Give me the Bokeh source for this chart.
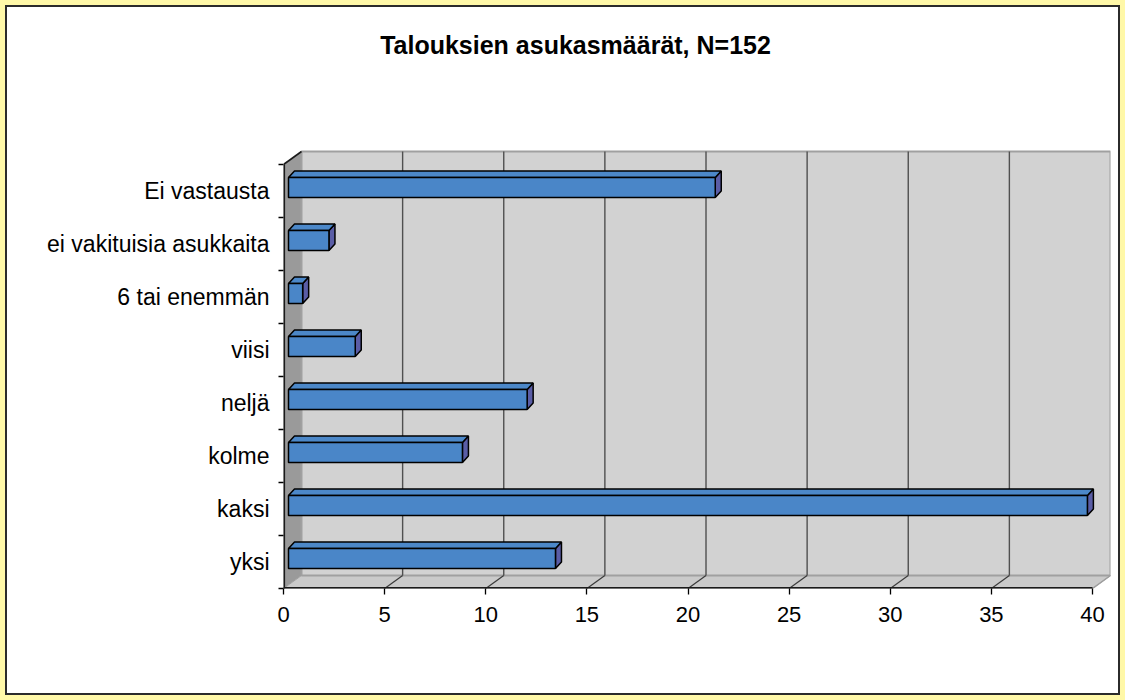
from bokeh.plotting import figure
from bokeh.models import Range1d, FixedTicker, LinearAxis, Label
from bokeh.embed import file_html
from bokeh.resources import INLINE

# ---------------- data ----------------
title_text = "Talouksien asukasmäärät, N=152"
categories = ["yksi", "kaksi", "kolme", "neljä", "viisi",
              "6 tai enemmän", "ei vakituisia asukkaita", "Ei vastausta"]
values = [13.2, 39.5, 8.6, 11.8, 3.3, 0.7, 2.0, 21.1]
x_ticks = [0, 5, 10, 15, 20, 25, 30, 35, 40]

# ---------------- layout (pixels) ----------------
W, H = 1125, 700
N = len(categories)
X_MAX = x_ticks[-1]
FRONT_W_PX = 809          # width of 0..X_MAX on the front plane
FRONT_H_PX = 424          # height of the category axis on the front plane
DEPTH_X_PX, DEPTH_Y_PX = 18, 13
FRONT_LEFT, FRONT_BOTTOM = 283, 588
SX = FRONT_W_PX / X_MAX
SY = FRONT_H_PX / N
dx = DEPTH_X_PX / SX
dy = DEPTH_Y_PX / SY

frame_w = FRONT_W_PX + DEPTH_X_PX
left_b = FRONT_LEFT
right_b = W - left_b - frame_w
top_b = 0
bottom_b = H - FRONT_BOTTOM

FONT = "Liberation Sans"

p = figure(width=W, height=H, output_backend="svg", toolbar_location=None,
           x_range=Range1d(0, X_MAX + dx),
           y_range=Range1d(0, FRONT_BOTTOM / SY),
           x_axis_location=None, y_axis_location=None,
           min_border_left=left_b, min_border_right=right_b,
           min_border_top=top_b, min_border_bottom=bottom_b)
p.background_fill_color = None
p.border_fill_color = None
p.outline_line_color = None
p.grid.visible = False
# chart-area box: light-yellow outer edge (outline, painted on top), dark rule, white inside
p.styles = {
    "background-color": "#ffffff",
    "box-shadow": "inset 0 0 0 7px #2B2B2B",
    "outline": "5px solid #FFF8A8",
    "outline-offset": "-5px",
}

# ---------------- 3D walls ----------------
p.patch([0, dx, dx, 0], [0, dy, N + dy, N], fill_color="#9A9A9A", line_color=None)
p.patch([0, X_MAX, X_MAX + dx, dx], [0, 0, dy, dy], fill_color="#CACACA",
        line_color="#9E9E9E", line_width=1)
p.quad(left=dx, right=X_MAX + dx, bottom=dy, top=N + dy,
       fill_color="#D2D2D2", line_color="#A0A0A0", line_width=2)

inner = x_ticks[1:-1]
p.segment(x0=[t + dx for t in inner], y0=[dy] * len(inner),
          x1=[t + dx for t in inner], y1=[N + dy] * len(inner),
          line_color="#505050", line_width=1.4)
p.segment(x0=inner, y0=[0] * len(inner),
          x1=[t + dx for t in inner], y1=[dy] * len(inner),
          line_color="#3A3A3A", line_width=1.2)
p.segment(x0=[X_MAX], y0=[0], x1=[X_MAX + dx], y1=[dy], line_color="#9E9E9E", line_width=1.5)

# front edges (clipped at frame edge, so drawn wider) and top diagonal of left wall
p.segment(x0=[0, 0], y0=[0, 0], x1=[X_MAX, 0], y1=[0, N],
          line_color="#1A1A1A", line_width=3.2)
p.segment(x0=[0], y0=[N], x1=[dx], y1=[N + dy], line_color="#1A1A1A", line_width=1.6)

# ---------------- bars ----------------
f0x, f0y = 5 / SX, 3.6 / SY
bdx, bdy = 6 / SX, 6.5 / SY
hh = 10 / SY

centers = [i + 0.5 for i in range(N)]
fl, fr, fb, ft = [], [], [], []
top_xs, top_ys, side_xs, side_ys = [], [], [], []
for c, v in zip(centers, values):
    l, r = f0x, v + f0x
    b, t = c - hh + f0y, c + hh + f0y
    fl.append(l); fr.append(r); fb.append(b); ft.append(t)
    top_xs.append([l, r, r + bdx, l + bdx])
    top_ys.append([t, t, t + bdy, t + bdy])
    side_xs.append([r, r + bdx, r + bdx, r])
    side_ys.append([b, b + bdy, t + bdy, t])

p.patches(side_xs, side_ys, fill_color="#5A5DA6", line_color="black", line_width=1.5)
p.patches(top_xs, top_ys, fill_color="#4C88C9", line_color="black", line_width=1.5)
p.quad(left=fl, right=fr, bottom=fb, top=ft, fill_color="#4A86C8",
       line_color="black", line_width=1.5)

# ---------------- axes ----------------
xaxis = LinearAxis(ticker=FixedTicker(ticks=x_ticks))
xaxis.axis_line_color = None
xaxis.major_tick_out = 6
xaxis.major_tick_in = 0
xaxis.major_tick_line_color = "black"
xaxis.major_tick_line_width = 1.3
xaxis.minor_tick_line_color = None
xaxis.major_label_standoff = 12
xaxis.major_label_text_font = FONT
xaxis.major_label_text_font_size = "22px"
xaxis.major_label_text_color = "black"
p.add_layout(xaxis, "below")

yaxis = LinearAxis(ticker=FixedTicker(ticks=centers, minor_ticks=list(range(N + 1))))
yaxis.axis_line_color = None
yaxis.major_tick_line_color = None
yaxis.major_tick_out = 0
yaxis.major_tick_in = 0
yaxis.minor_tick_out = 5
yaxis.minor_tick_in = 0
yaxis.minor_tick_line_color = "black"
yaxis.minor_tick_line_width = 1.3
yaxis.major_label_standoff = 9
yaxis.major_label_overrides = {c: name for c, name in zip(centers, categories)}
yaxis.major_label_text_font = FONT
yaxis.major_label_text_font_size = "23px"
yaxis.major_label_text_color = "black"
p.add_layout(yaxis, "left")

# ---------------- title ----------------
TITLE_CX, TITLE_CY = 575, 44
title = Label(x=(TITLE_CX - FRONT_LEFT) / SX, y=(FRONT_BOTTOM - TITLE_CY) / SY,
              text=title_text,
              text_align="center", text_baseline="middle", text_font=FONT,
              text_font_style="bold", text_font_size="25px", text_color="black")
p.add_layout(title)

open("out.html", "w").write(file_html(p, INLINE))
